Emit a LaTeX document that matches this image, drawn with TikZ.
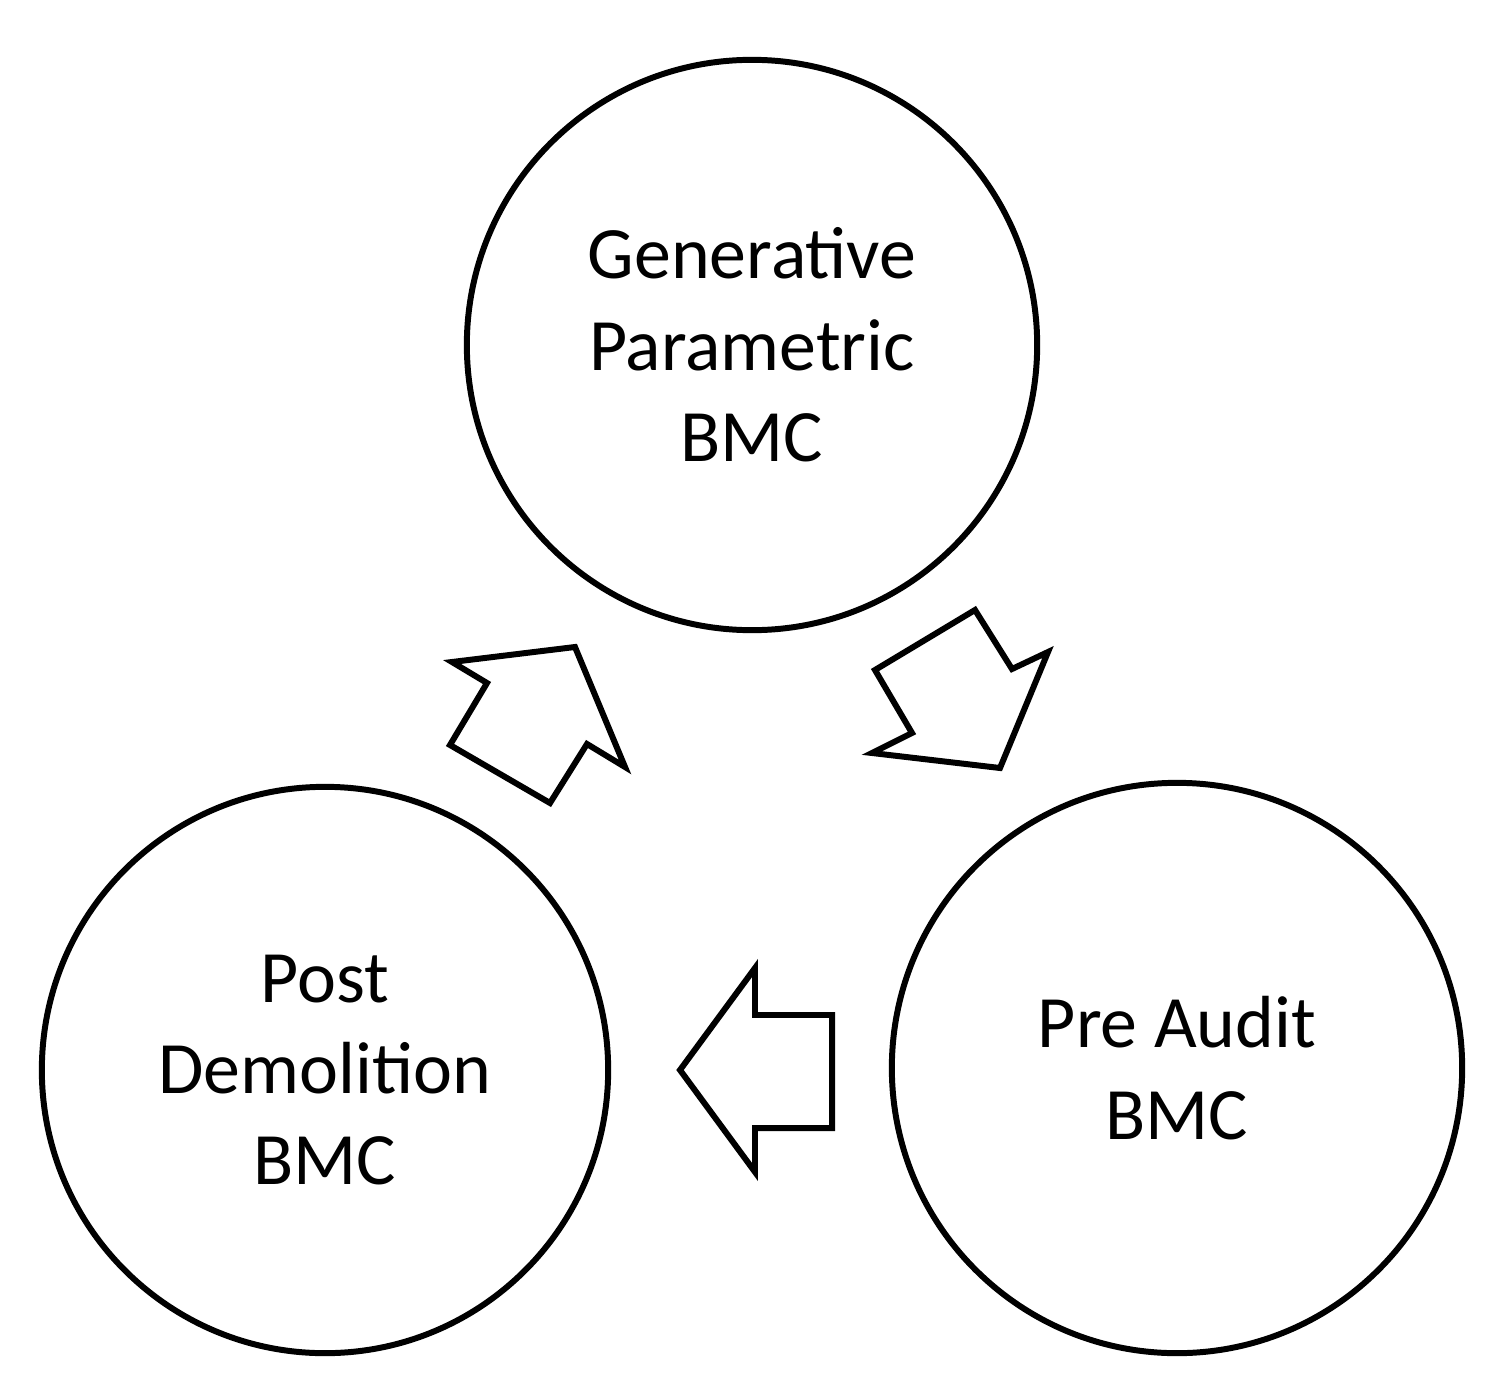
\documentclass[tikz,border=0pt]{standalone}
\usepackage{fontspec}
\setmainfont{Carlito}
\usepackage{tikz}

\tikzset{
  stage/.style={draw, circle, line width=1.7pt, minimum size=14.2cm, inner sep=0pt,
    align=center, font=\fontsize{21}{26}\selectfont},
  flow/.style={draw, line width=1.7pt, line join=miter}
}

\begin{document}
\begin{tikzpicture}[x=0.01cm, y=-0.01cm]
            \useasboundingbox (0,0) rectangle (1506,1400);

            \node[stage, minimum size=5.7cm] (gen) at (752,345) {Generative\\Parametric\\BMC};
            \node[stage, minimum size=5.7cm] (pre) at (1177,1068) {Pre Audit\\BMC};
            \node[stage, minimum size=5.66cm] (post) at (325,1070) {Post\\Demolition\\BMC};

            % block arrows between the stages
            \draw[flow] (875,670) -- (975,610) -- (1012,669) -- (1048,652) -- (1000,768)
                -- (872,753) -- (912,733) -- cycle;
            \draw[flow] (680,1070) -- (755,968) -- (755,1015) -- (832,1015) -- (832,1128)
                -- (755,1128) -- (755,1172) -- cycle;
            \draw[flow] (450,745) -- (487,683) -- (452,662) -- (575,647) -- (625,767)
                -- (587,744) -- (550,803) -- cycle;
        \end{tikzpicture}
\end{document}
